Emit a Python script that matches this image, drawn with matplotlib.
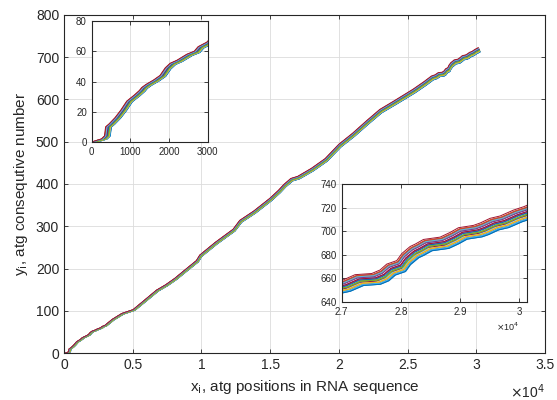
import numpy as np
import matplotlib
matplotlib.use("Agg")
import matplotlib.pyplot as plt

plt.rcParams['font.family'] = ['Liberation Sans', 'DejaVu Sans']

# top curve (atg count vs position)
base_x = [0, 120, 250, 330, 360, 450, 600, 750, 905, 1100, 1230, 1293, 1400, 1600,
          1766, 1900, 2025, 2200, 2457, 2650, 2750, 2974, 3500, 4200, 5020, 5800,
          6720, 7400, 8055, 8800, 9630, 9875, 11000, 12300, 12785, 13800, 14970,
          15600, 16000, 16500, 17000, 18000, 19000, 20000, 21000, 22000, 22970,
          24000, 25400, 26200, 26730,
          27000, 27225, 27507, 27648, 27760, 27930, 28015, 28156, 28240, 28381,
          28663, 28831, 28972, 29226, 29338, 29507, 29676, 29901, 30081, 30125]
base_y = [0, 1, 2, 4, 10, 12, 16, 21, 27, 31, 34, 36, 38, 41,
          44, 49, 52, 54, 58, 60, 63, 66, 80, 94, 103, 124,
          149, 162, 177, 197, 219, 232, 262, 293, 314, 336, 366,
          385, 399, 413, 418, 437, 460, 494, 520, 549, 576,
          596, 624, 642, 655,
          658, 663, 664, 667, 672, 675, 681, 687, 689, 693,
          695, 699, 703, 705, 707, 711, 713, 718, 721, 722]

# per-sequence start lag (bp) and final drop below the top curve
seq_lag = [150, 40, 90, 130, 20, 110, 60, 140, 10, 120, 70, 100, 30, 80,
           145, 50, 115, 25, 95, 135, 65, 85, 15, 125, 45, 105, 35, 0]
seq_drop = [10, 1, 6, 9, 3, 7, 5, 10, 2, 8, 4, 6, 3, 7,
            9, 2, 8, 1, 6, 9, 4, 5, 1, 8, 3, 6, 2, 0]

colors = ['#0072BD', '#D95319', '#EDB120', '#7E2F8E', '#77AC30', '#4DBEEE', '#A2142F']
axcol = '#262626'
gridcol = '#dcdcdc'

bx = np.array(base_x, float)
by = np.array(base_y, float)

fig = plt.figure(figsize=(5.57, 4.0), dpi=100)


def style(ax, fs):
    ax.grid(True, color=gridcol, linewidth=0.6)
    ax.set_axisbelow(True)
    ax.tick_params(direction='in', top=True, right=True, colors=axcol,
                   labelsize=fs, length=3, width=0.6)
    for s in ax.spines.values():
        s.set_color(axcol)
        s.set_linewidth(0.8)


def draw_lines(ax):
    for k in range(len(seq_lag)):
        x = bx + seq_lag[k]
        y = by - seq_drop[k] * by / by[-1]
        ax.plot(x, y, color=colors[k % 7], linewidth=0.7)


# main axes
ax = fig.add_axes([0.1149, 0.1168, 0.8636, 0.8465])
draw_lines(ax)
ax.set_xlim(0, 35000)
ax.set_ylim(0, 800)
ax.set_xticks(np.arange(0, 35001, 5000))
ax.set_xticklabels(['0', '0.5', '1', '1.5', '2', '2.5', '3', '3.5'])
ax.set_yticks(np.arange(0, 801, 100))
style(ax, 10)
ax.set_xlabel('x$_{\\rm i}$, atg positions in RNA sequence', fontsize=11, color=axcol)
ax.set_ylabel('y$_{\\rm i}$, atg consequtive number', fontsize=11, color=axcol)
ax.text(1.0, -0.085, '$\\times$10$^{4}$', transform=ax.transAxes, ha='right', va='top',
        fontsize=10, color=axcol)

# inset: beginning of sequences
ax1 = fig.add_axes([0.1646, 0.645, 0.2083, 0.3025])
draw_lines(ax1)
ax1.set_xlim(0, 3000)
ax1.set_ylim(0, 80)
ax1.set_xticks([0, 1000, 2000, 3000])
ax1.set_yticks([0, 20, 40, 60, 80])
style(ax1, 7)

# inset: end of sequences
ax2 = fig.add_axes([0.6135, 0.2458, 0.3321, 0.2935])
draw_lines(ax2)
ax2.set_xlim(27000, 30125)
ax2.set_ylim(640, 740)
ax2.set_xticks([27000, 28000, 29000, 30000])
ax2.set_xticklabels(['2.7', '2.8', '2.9', '3'])
ax2.set_yticks(np.arange(640, 741, 20))
style(ax2, 7)
ax2.text(0.96, -0.16, '$\\times$10$^{4}$', transform=ax2.transAxes, ha='right', va='top',
         fontsize=6.5, color=axcol)

fig.savefig('out.png', dpi=100)
